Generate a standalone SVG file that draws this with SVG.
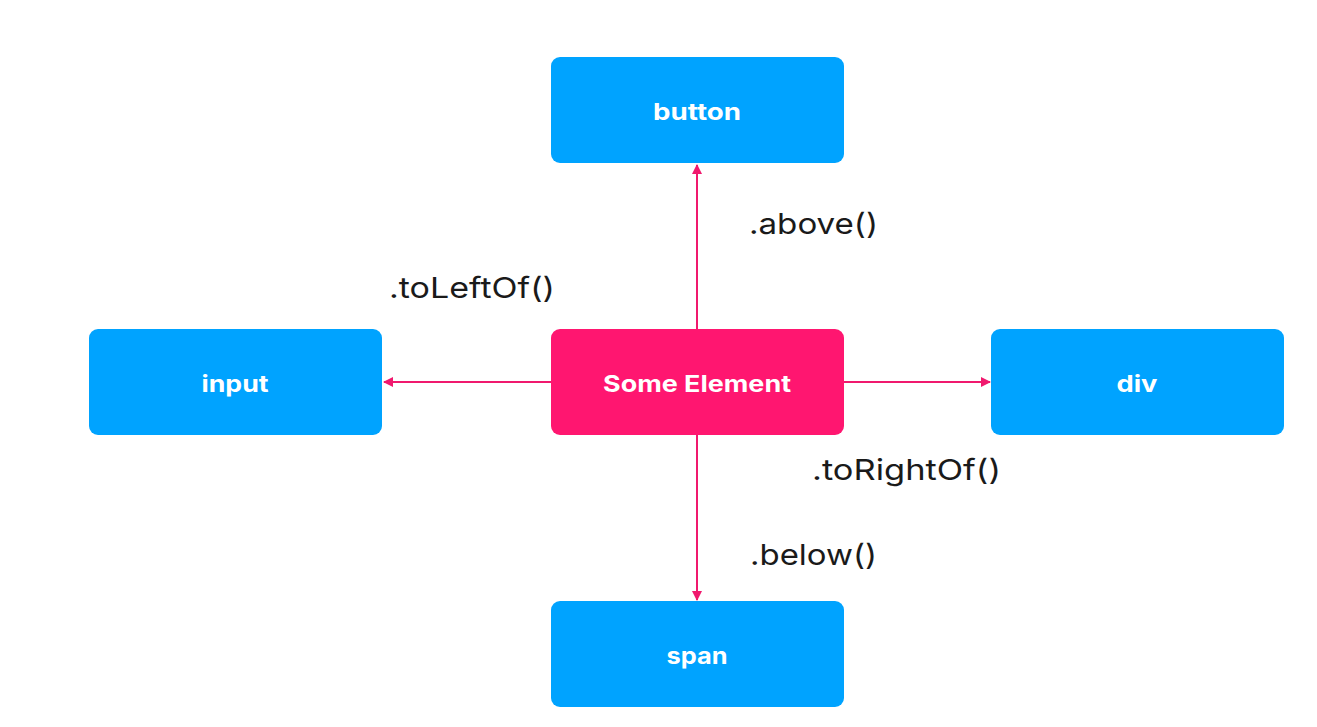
<svg xmlns="http://www.w3.org/2000/svg" width="1317" height="727" viewBox="0 0 1317 727">
<style>
.box{fill:#00a3ff}
.main{fill:#ff1670}
.nt{font-family:Inter,"Liberation Sans",sans-serif;font-weight:bold;font-size:23px;fill:#ffffff;text-anchor:middle}
.lbl{font-family:Inter,"Liberation Sans",sans-serif;font-size:29px;fill:#1a1a1a}
.conn{stroke:#f0196e;stroke-width:2;fill:none;marker-end:url(#ah)}
</style>
<defs>
<marker id="ah" viewBox="0 0 10 10" refX="9" refY="5" markerWidth="5" markerHeight="5" orient="auto" markerUnits="strokeWidth">
<path d="M0,0 L10,5 L0,10 z" fill="#f0196e"/>
</marker>
</defs>
<rect width="1317" height="727" fill="#ffffff"/>
<g id="connectors">
<line class="conn" x1="697" y1="329" x2="697" y2="165"/>
<line class="conn" x1="551" y1="382" x2="384" y2="382"/>
<line class="conn" x1="844" y1="382" x2="990" y2="382"/>
<line class="conn" x1="697" y1="435" x2="697" y2="600"/>
</g>
<g id="labels">
<text class="lbl" x="749" y="234" textLength="129" lengthAdjust="spacingAndGlyphs">.above()</text>
<text class="lbl" x="389" y="298" textLength="166" lengthAdjust="spacingAndGlyphs">.toLeftOf()</text>
<text class="lbl" x="812" y="480" textLength="189" lengthAdjust="spacingAndGlyphs">.toRightOf()</text>
<text class="lbl" x="750" y="565" textLength="127" lengthAdjust="spacingAndGlyphs">.below()</text>
</g>
<g id="button"><rect class="box" x="551" y="57" width="293" height="106" rx="9"/><text class="nt" x="697" y="120" textLength="88" lengthAdjust="spacingAndGlyphs">button</text></g>
<g id="some-element"><rect class="main" x="551" y="329" width="293" height="106" rx="9"/><text class="nt" x="697" y="392" textLength="188" lengthAdjust="spacingAndGlyphs">Some Element</text></g>
<g id="input"><rect class="box" x="89" y="329" width="293" height="106" rx="9"/><text class="nt" x="235" y="392" textLength="67" lengthAdjust="spacingAndGlyphs">input</text></g>
<g id="div"><rect class="box" x="991" y="329" width="293" height="106" rx="9"/><text class="nt" x="1137" y="392" textLength="41" lengthAdjust="spacingAndGlyphs">div</text></g>
<g id="span"><rect class="box" x="551" y="601" width="293" height="106" rx="9"/><text class="nt" x="697" y="664" textLength="61" lengthAdjust="spacingAndGlyphs">span</text></g>
</svg>
